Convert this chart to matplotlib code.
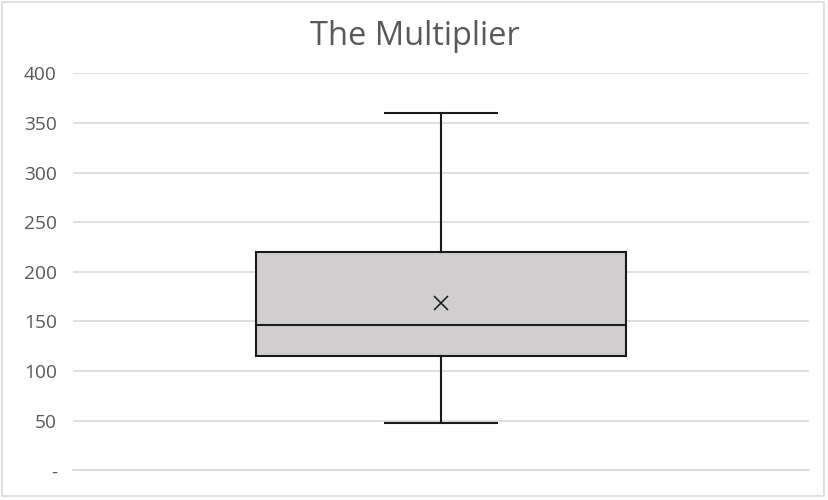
import matplotlib
matplotlib.use("Agg")
import matplotlib.pyplot as plt
from matplotlib.patches import Rectangle

plt.rcParams['font.family'] = ['Open Sans', 'DejaVu Sans']

title = "The Multiplier"
whisker_low = 48
q1 = 115
median = 146
q3 = 220
whisker_high = 360
mean = 169
y_ticks = [0, 50, 100, 150, 200, 250, 300, 350, 400]
y_tick_labels = ["-", "50", "100", "150", "200", "250", "300", "350", "400"]

fig = plt.figure(figsize=(8.29, 5.0), dpi=100)
ax = fig.add_axes([0.088, 0.0594, 0.888, 0.794])

stats = [dict(whislo=whisker_low, q1=q1, med=median, q3=q3, whishi=whisker_high,
              mean=mean, fliers=[], label="")]
edge = "#1a1a1a"
ax.bxp(stats, positions=[1], widths=0.503, capwidths=0.151, showmeans=True,
       showfliers=False, patch_artist=True,
       boxprops=dict(facecolor="#d0cece", edgecolor=edge, linewidth=1.5),
       medianprops=dict(color=edge, linewidth=1.5),
       whiskerprops=dict(color=edge, linewidth=1.5),
       capprops=dict(color=edge, linewidth=1.5),
       meanprops=dict(marker="x", markeredgecolor=edge, markersize=10, markeredgewidth=1.1))

ax.set_xlim(0.5, 1.5)
ax.set_ylim(0, 400)
ax.set_yticks(y_ticks)
ax.set_yticklabels(y_tick_labels)
ax.set_xticks([])
ax.yaxis.grid(True, color="#d9d9d9", linewidth=1.2)
ax.set_axisbelow(True)
for s in ["top", "right", "left"]:
    ax.spines[s].set_visible(False)
ax.spines["bottom"].set_color("#d9d9d9")
ax.spines["bottom"].set_linewidth(1.2)
ax.tick_params(axis="y", length=0, pad=11.5, labelsize=13.8, labelcolor="#595959")

fig.text(0.5, 0.927, title, ha="center", va="center", fontsize=23.5, color="#595959")

fig.patches.append(Rectangle((0.003, 0.008), 0.991, 0.988, transform=fig.transFigure,
                             fill=False, edgecolor="#d9d9d9", linewidth=1.2))

fig.savefig("out.png", dpi=100)
